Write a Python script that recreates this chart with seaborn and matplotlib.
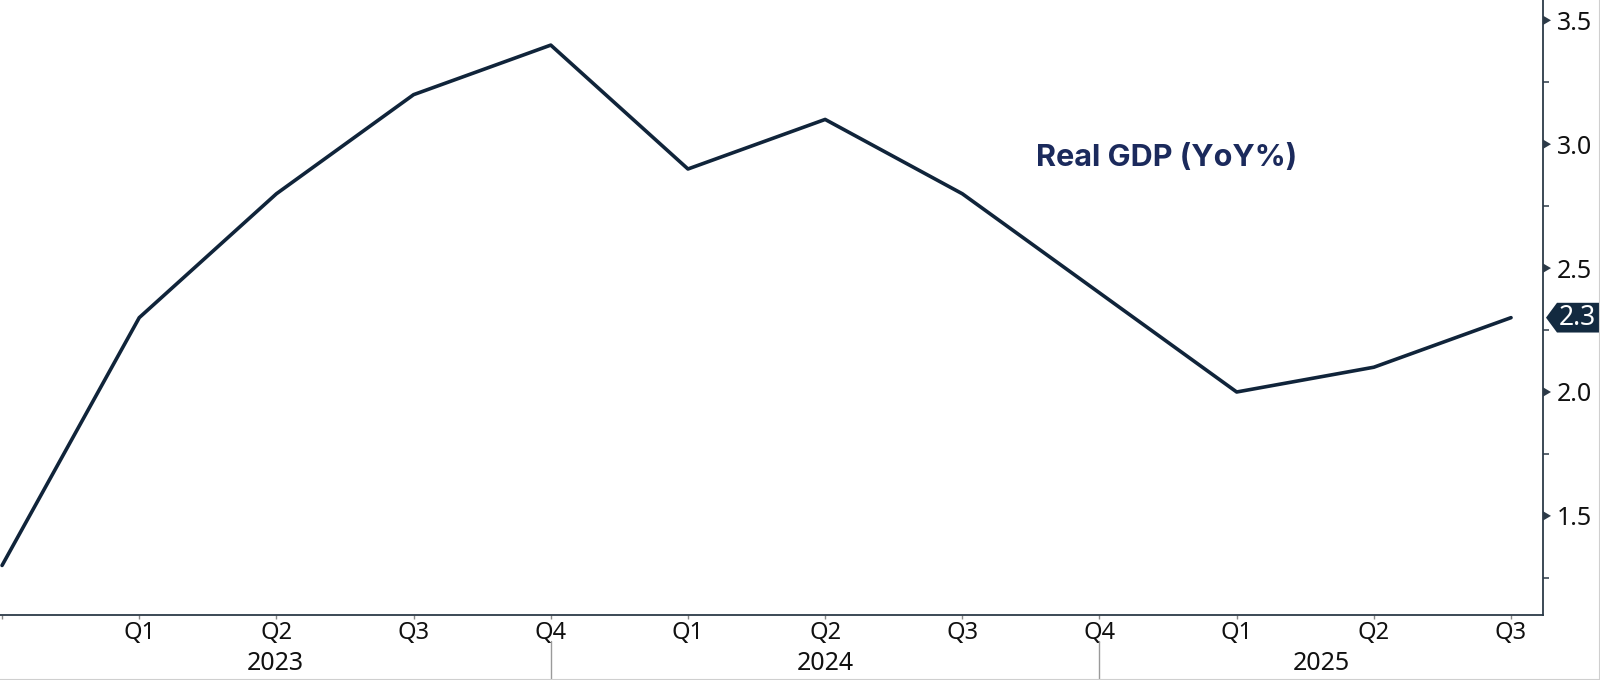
import matplotlib
matplotlib.use("Agg")
import matplotlib.pyplot as plt
import matplotlib.transforms as mtransforms
from matplotlib.lines import Line2D
from matplotlib.patches import Polygon
from matplotlib.ticker import MultipleLocator
import seaborn as sns
import pandas as pd

# ---- data ----
quarters = ["Q4", "Q1", "Q2", "Q3", "Q4", "Q1", "Q2", "Q3", "Q4", "Q1", "Q2", "Q3"]
years = [2022, 2023, 2023, 2023, 2023, 2024, 2024, 2024, 2024, 2025, 2025, 2025]
gdp_yoy = [1.3, 2.3, 2.8, 3.2, 3.4, 2.9, 3.1, 2.8, 2.4, 2.0, 2.1, 2.3]
tick_labels = ["", "Q1", "Q2", "Q3", "Q4", "Q1", "Q2", "Q3", "Q4", "Q1", "Q2", "Q3"]
year_labels = ["2023", "2024", "2025"]
y_ticks = [1.5, 2.0, 2.5, 3.0, 3.5]
y_tick_labels = ["1.5", "2.0", "2.5", "3.0", "3.5"]
series_name = "Real GDP (YoY%)"
last_label = "2.3"

df = pd.DataFrame({"idx": list(range(len(gdp_yoy))), "value": gdp_yoy,
                   "quarter": quarters, "year": years})

sns.set_theme(style="white")
plt.rcParams["font.family"] = ["Noto Sans", "DejaVu Sans"]

LINE = "#10243a"
NAVY = "#1b2a5c"
SPINE = "#2c3a48"

fig = plt.figure(figsize=(16, 6.8), dpi=100)
ax = fig.add_axes([0.0, (680 - 615) / 680, 1543 / 1600, 615 / 680])

sns.lineplot(data=df, x="idx", y="value", ax=ax, color=LINE, linewidth=2.6)

xmin, xmax = -0.015, 11.233
ymin, ymax = 1.1, 3.582
ax.set_xlim(xmin, xmax)
ax.set_ylim(ymin, ymax)
ax.set_xlabel("")
ax.set_ylabel("")

# spines
for s in ["left", "top"]:
    ax.spines[s].set_visible(False)
for s in ["right", "bottom"]:
    ax.spines[s].set_color(SPINE)
    ax.spines[s].set_linewidth(1.3)

# y axis on right
ax.yaxis.tick_right()
ax.yaxis.set_minor_locator(MultipleLocator(0.25))
ax.set_yticks(y_ticks)
ax.set_yticklabels(y_tick_labels)
ax.tick_params(axis="y", which="major", right=True, left=False, length=0, pad=10,
               labelsize=18, labelcolor="#111111")
ax.tick_params(axis="y", which="minor", right=True, left=False, length=4, width=1.1,
               color=SPINE, direction="out")

# triangle major tick markers, sitting just right of the spine
ftr = mtransforms.blended_transform_factory(fig.transFigure, ax.transData)
th = 0.019
for v in y_ticks:
    fig.add_artist(Polygon([(1543 / 1600, v + th), (1551 / 1600, v), (1543 / 1600, v - th)],
                           closed=True, transform=ftr, facecolor=SPINE,
                           edgecolor="none", zorder=5))

# x axis
ax.set_xticks(df["idx"])
ax.set_xticklabels(tick_labels)
ax.tick_params(axis="x", which="major", bottom=True, length=3, width=1, color="#888888",
               pad=1, labelsize=17, labelcolor="#111111", direction="out")
ax.tick_params(axis="x", which="minor", bottom=False)

# year separators and labels
xtr = mtransforms.blended_transform_factory(ax.transData, fig.transFigure)
bounds = [xmin, 4, 8, xmax]
for b in bounds[1:-1]:
    fig.add_artist(Line2D([b, b], [1 - 641 / 680, 0.0], transform=xtr,
                          color="#9a9a9a", linewidth=1))
for i, lab in enumerate(year_labels):
    c = (bounds[i] + bounds[i + 1]) / 2
    fig.text(c, 1 - 664 / 680, lab, transform=xtr, ha="center", va="center",
             fontsize=18, color="#111111")

# series label
ax.text(8.49, 2.943, series_name, ha="center", va="center", fontsize=22,
        fontweight="bold", color=NAVY, family=["Inter", "DejaVu Sans"])

# last value tag
v = gdp_yoy[-1]
h = 0.06
poly = Polygon([(1546 / 1600, v), (1557 / 1600, v + h), (1.0, v + h),
                (1.0, v - h), (1557 / 1600, v - h)], closed=True,
               transform=ftr, facecolor="#132a40", edgecolor="none", clip_on=False)
fig.add_artist(poly)
fig.text(1577 / 1600, v, last_label, transform=ftr, ha="center", va="center",
         fontsize=19, color="white")

# light frame lines (bottom & right)
fig.add_artist(Line2D([0, 1], [0.5 / 680, 0.5 / 680], transform=fig.transFigure,
                      color="#cfcfcf", linewidth=1.5))
fig.add_artist(Line2D([1 - 0.5 / 1600, 1 - 0.5 / 1600], [0, 1], transform=fig.transFigure,
                      color="#cfcfcf", linewidth=1.5))

fig.savefig("out.png", dpi=100)
